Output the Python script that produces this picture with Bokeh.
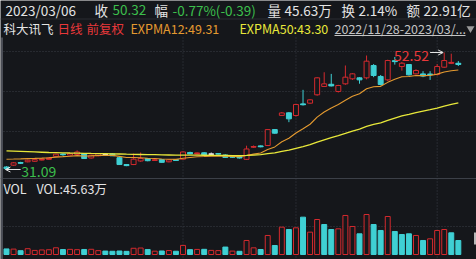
from bokeh.plotting import figure
from bokeh.models import Range1d, ColumnDataSource, Arrow, OpenHead
from bokeh.embed import file_html
from bokeh.resources import INLINE
from bokeh.core.properties import value

# ---------------- data ----------------
stock_name = "科大讯飞"
dates = [
    "2022/11/28", "2022/11/29", "2022/11/30",
    "2022/12/01", "2022/12/02", "2022/12/05", "2022/12/06", "2022/12/07", "2022/12/08",
    "2022/12/09", "2022/12/12", "2022/12/13", "2022/12/14", "2022/12/15", "2022/12/16",
    "2022/12/19", "2022/12/20", "2022/12/21", "2022/12/22", "2022/12/23", "2022/12/26",
    "2022/12/27", "2022/12/28", "2022/12/29", "2022/12/30",
    "2023/01/03", "2023/01/04", "2023/01/05", "2023/01/06", "2023/01/09", "2023/01/10",
    "2023/01/11", "2023/01/12", "2023/01/13", "2023/01/16", "2023/01/17", "2023/01/18",
    "2023/01/19", "2023/01/20", "2023/01/30", "2023/01/31",
    "2023/02/01", "2023/02/02", "2023/02/03", "2023/02/06", "2023/02/07", "2023/02/08",
    "2023/02/09", "2023/02/10", "2023/02/13", "2023/02/14", "2023/02/15", "2023/02/16",
    "2023/02/17", "2023/02/20", "2023/02/21", "2023/02/22", "2023/02/23", "2023/02/24",
    "2023/02/27", "2023/02/28",
    "2023/03/01", "2023/03/02", "2023/03/03", "2023/03/06",
]
opens = [31.55, 31.88, 32.35, 32.50, 32.60, 32.85, 32.95, 33.50, 33.90, 33.72,
         33.85, 34.00, 33.20, 33.60, 33.87, 33.95, 33.25, 32.00, 32.00, 32.65,
         33.10, 32.75, 32.90, 32.50, 32.90, 32.98, 34.20, 33.95, 34.15, 33.90,
         34.00, 33.75, 33.50, 33.40, 32.95, 35.20, 35.40, 35.48, 38.40, 41.00,
         41.47, 40.98, 43.10, 43.24, 44.77, 46.30, 46.70, 45.38, 46.78, 47.70,
         47.88, 47.88, 50.14, 48.13, 47.51, 51.00, 49.95, 50.32, 48.61, 48.60,
         48.55, 48.49, 49.83, 50.55, 50.55]
highs = [31.70, 32.45, 32.50, 32.90, 33.00, 33.10, 33.30, 34.00, 34.05, 34.10,
         34.60, 34.10, 33.80, 34.10, 34.00, 34.05, 33.40, 32.10, 34.00, 34.20,
         33.20, 33.00, 33.00, 32.95, 33.00, 34.40, 34.35, 34.20, 34.25, 34.20,
         34.10, 33.85, 33.60, 33.50, 35.45, 35.50, 35.50, 38.50, 38.50, 41.60,
         41.60, 43.10, 45.68, 44.00, 48.00, 48.90, 48.60, 46.60, 50.14, 48.75,
         48.00, 51.97, 50.40, 48.40, 51.20, 51.70, 50.80, 50.40, 49.45, 49.10,
         49.10, 50.40, 52.52, 52.30, 50.95]
lows = [31.09, 31.75, 32.10, 32.40, 32.50, 32.75, 32.85, 33.40, 33.60, 33.65,
        33.80, 33.05, 33.10, 33.50, 33.70, 33.55, 31.95, 31.70, 31.90, 32.50,
        32.60, 32.65, 32.35, 32.40, 32.70, 32.90, 33.90, 33.85, 33.70, 33.80,
        33.85, 33.25, 33.25, 33.10, 32.85, 35.05, 35.15, 35.40, 37.65, 40.90,
        39.76, 40.80, 42.80, 43.10, 44.60, 46.20, 46.30, 45.20, 46.60, 47.50,
        46.80, 47.60, 48.00, 46.50, 47.30, 50.30, 49.20, 48.30, 48.50, 48.00,
        47.50, 48.30, 49.70, 50.40, 50.05]
closes = [31.25, 32.31, 32.25, 32.80, 32.90, 33.00, 33.20, 33.90, 33.80, 34.00,
          34.30, 33.10, 33.70, 34.00, 33.87, 33.60, 32.00, 31.80, 32.98, 33.10,
          32.70, 32.85, 32.40, 32.85, 32.75, 34.30, 33.95, 34.10, 33.75, 33.90,
          33.95, 33.30, 33.35, 33.20, 34.85, 35.30, 35.25, 38.40, 37.74, 41.45,
          40.37, 43.00, 42.95, 43.85, 47.88, 46.78, 46.40, 46.47, 48.00, 48.61,
          47.51, 50.93, 48.31, 46.66, 51.05, 50.85, 50.56, 48.43, 49.22, 48.20,
          48.48, 49.95, 51.05, 50.71, 50.32]
volumes = [18.2, 17.6, 12.4, 18.9, 13.3, 14.8, 15.5, 21.9, 16.1, 16.8,
           15.7, 16.4, 17.0, 12.6, 11.2, 10.5, 11.4, 10.2, 20.3, 21.1,
           16.0, 10.8, 11.5, 12.9, 10.6, 29.6, 15.8, 16.6, 16.9, 13.4,
           12.7, 24.2, 11.1, 10.4, 45.7, 21.7, 16.3, 62.0, 29.3, 89.1,
           81.5, 87.0, 121.7, 72.8, 114.1, 97.8, 81.5, 83.7, 127.2, 91.3,
           67.4, 130.4, 97.8, 78.3, 123.9, 75.0, 65.2, 67.4, 62.0, 45.7,
           51.1, 78.3, 81.5, 70.7, 45.63]   # 万手
expma12 = [32.98, 33.00, 33.03, 33.08, 33.12, 33.18, 33.25, 33.36, 33.44, 33.53,
           33.64, 33.57, 33.59, 33.65, 33.68, 33.67, 33.49, 33.30, 33.28, 33.25,
           33.16, 33.11, 33.00, 32.98, 32.95, 33.16, 33.30, 33.42, 33.47, 33.53,
           33.57, 33.53, 33.50, 33.45, 33.66, 33.91, 34.12, 34.77, 35.23, 36.17,
           36.82, 37.77, 38.57, 39.38, 40.69, 41.63, 42.36, 43.00, 43.77, 44.51,
           44.97, 45.89, 46.26, 46.32, 47.05, 47.63, 48.08, 48.13, 48.30, 48.28,
           48.31, 48.56, 48.94, 49.18, 49.31]
expma50 = [34.50, 34.45, 34.40, 34.35, 34.30, 34.25, 34.20, 34.17, 34.14, 34.11,
           34.09, 34.06, 34.03, 34.01, 33.99, 33.97, 33.93, 33.89, 33.86, 33.84,
           33.82, 33.80, 33.77, 33.75, 33.72, 33.73, 33.72, 33.71, 33.70, 33.69,
           33.68, 33.66, 33.64, 33.63, 33.68, 33.74, 33.80, 33.98, 34.13, 34.42,
           34.65, 34.98, 35.29, 35.63, 36.11, 36.53, 36.92, 37.29, 37.71, 38.14,
           38.50, 38.99, 39.36, 39.64, 40.09, 40.51, 40.90, 41.20, 41.51, 41.78,
           42.04, 42.35, 42.69, 43.01, 43.30]
turnover_pct = 2.14
amount_yi = 22.91

# ---------------- styles ----------------
W, H = 476, 259
BG = "#15171b"
RED = "#d42a2e"
CYAN = "#3fd0d4"
DOJI = "#e6e6e6"
ORANGE = "#e49a30"
YELLOW = "#e8e83a"
WHITE = "#e4e4e4"
GREEN = "#3cbf4c"
REDT = "#e8383a"
GRAYT = "#c4c4c4"
GRID = "#3a3e46"
FONT = value("Noto Sans CJK SC")

n = len(closes)
idx = list(range(n))
hi_i = max(idx, key=lambda i: highs[i])
lo_i = min(idx, key=lambda i: lows[i])

# pixel layout -> data mapping helpers (layout only)
XPX = 7.06
X0 = -0.85
def xd(px):
    return X0 + px / XPX
PPX = (169 - 52) / (highs[hi_i] - lows[lo_i])
PTOP = highs[hi_i] + 52 / PPX
def yd(py):
    return PTOP - py / PPX
VBASE = 254
VPX = max(volumes) / (VBASE - 214)

p = figure(width=W, height=H, output_backend="svg", toolbar_location=None,
           x_range=Range1d(xd(0), xd(W)), y_range=Range1d(yd(H), yd(0)),
           x_axis_location=None, y_axis_location=None, min_border=0)
p.extra_y_ranges = {"vol": Range1d(-(H - VBASE) * VPX, VBASE * VPX)}
p.grid.visible = False
p.outline_line_color = None
p.background_fill_color = BG
p.border_fill_color = BG

# ---- grid / frame ----
hy = [51, 91, 131, 226]
p.segment(x0=[xd(3)] * len(hy), x1=[xd(W)] * len(hy), y0=[yd(v) for v in hy], y1=[yd(v) for v in hy],
          line_color=GRID, line_width=1, line_dash="1 2")
month_starts = [i for i in range(1, n) if dates[i][:7] != dates[i - 1][:7] and i > 5]
p.segment(x0=month_starts, x1=month_starts, y0=[yd(37)] * len(month_starts), y1=[yd(H)] * len(month_starts),
          line_color=GRID, line_width=1, line_dash="1 2")
p.segment(x0=[xd(0)], x1=[xd(W)], y0=[yd(178)], y1=[yd(178)], line_color="#3c4048", line_width=1.2)
p.segment(x0=[xd(0)], x1=[xd(W)], y0=[yd(18.5)], y1=[yd(18.5)], line_color="#2a2d33", line_width=1)
p.segment(x0=[xd(1.5)], x1=[xd(1.5)], y0=[yd(37)], y1=[yd(H)], line_color="#4a4d55", line_width=2)
p.quad(left=[xd(473.5)], right=[xd(W)], top=[yd(232)], bottom=[yd(244)], fill_color="#b8b8b8", line_color=None)

# ---- candles ----
ccol = [RED if c > o else (CYAN if c < o else DOJI) for o, c in zip(opens, closes)]
cfill = [CYAN if c < o else BG for o, c in zip(opens, closes)]
csrc = ColumnDataSource(dict(x=idx, o=opens, h=highs, l=lows, c=closes,
                             top=[max(o, c) for o, c in zip(opens, closes)],
                             bot=[min(o, c) for o, c in zip(opens, closes)],
                             col=ccol, fill=cfill))
p.segment(x0="x", x1="x", y0="h", y1="l", line_color="col", line_width=1, source=csrc)
p.vbar(x="x", width=0.7, top="top", bottom="bot", fill_color="fill", line_color="col", line_width=1, source=csrc)
thin = [i for i in idx if abs(opens[i] - closes[i]) * PPX < 1.5]
p.segment(x0=[i - 0.35 for i in thin], x1=[i + 0.35 for i in thin],
          y0=[(opens[i] + closes[i]) / 2 for i in thin], y1=[(opens[i] + closes[i]) / 2 for i in thin],
          line_color=[ccol[i] for i in thin], line_width=1.3)

# ---- EXPMA lines ----
p.line(idx, expma12, line_color=ORANGE, line_width=1.1)
p.line(idx, expma50, line_color=YELLOW, line_width=1.3)

# ---- volume ----
vup = [closes[0] >= opens[0]] + [closes[i] >= closes[i - 1] for i in range(1, n)]
vsrc = ColumnDataSource(dict(x=idx, v=volumes,
                             col=[RED if u else CYAN for u in vup],
                             fill=[BG if u else CYAN for u in vup]))
p.vbar(x="x", width=0.7, top="v", bottom=0, fill_color="fill", line_color="col", line_width=1,
       source=vsrc, y_range_name="vol")

# ---- high / low markers ----
p.add_layout(Arrow(end=OpenHead(size=5, line_color=WHITE, line_width=1), line_color=WHITE, line_width=1,
                   x_start=hi_i - 2.0, y_start=highs[hi_i], x_end=hi_i - 0.15, y_end=highs[hi_i]))
p.text(x=[hi_i - 2.15], y=[highs[hi_i]], text=[f"{highs[hi_i]:.2f}"], text_color=REDT, text_font=FONT,
       text_font_size="14px", text_align="right", text_baseline="middle", y_offset=3)
p.add_layout(Arrow(end=OpenHead(size=5, line_color=WHITE, line_width=1), line_color=WHITE, line_width=1,
                   x_start=lo_i + 2.0, y_start=lows[lo_i], x_end=lo_i - 0.15, y_end=lows[lo_i]))
p.text(x=[lo_i + 2.1], y=[lows[lo_i]], text=[f"{lows[lo_i]:.2f}"], text_color=GREEN, text_font=FONT,
       text_font_size="14px", text_align="left", text_baseline="middle", y_offset=2)

# ---- header texts ----
def txt(items, py, size):
    src = ColumnDataSource(dict(x=[xd(a) for a, _, _ in items], y=[yd(py)] * len(items),
                                t=[b for _, b, _ in items], c=[c for _, _, c in items]))
    p.text(x="x", y="y", text="t", text_color="c", source=src, text_font=FONT,
           text_font_size=size, text_baseline="middle", text_align="left")

chg = closes[-1] - closes[-2]
pct = chg / closes[-2] * 100
txt([(5, dates[-1], WHITE), (94, "收", WHITE), (112, f"{closes[-1]:.2f}", GREEN),
     (154, "幅", WHITE), (172, f"{pct:.2f}%({chg:.2f})", GREEN),
     (267, "量", WHITE), (284, f"{volumes[-1]:.2f}万", WHITE),
     (341, "换", WHITE), (358, f"{turnover_pct:.2f}%", WHITE),
     (406, "额", WHITE), (423, f"{amount_yi:.2f}亿", WHITE)], 9, "13.5px")
range_txt = f"{dates[0]}-{dates[-1][:8]}..."
txt([(3, stock_name, WHITE), (57, "日线", REDT), (86, "前复权", REDT),
     (130, f"EXPMA12:{expma12[-1]:.2f}", ORANGE), (239, f"EXPMA50:{expma50[-1]:.2f}", YELLOW),
     (334, range_txt, GRAYT)], 28, "12.5px")
p.segment(x0=[xd(334)], x1=[xd(465)], y0=[yd(35)], y1=[yd(35)], line_color=GRAYT, line_width=1)
p.scatter(x=[xd(470)], y=[yd(28)], marker="inverted_triangle", size=8, fill_color="#9a9a9a", line_color=None)
txt([(3, "VOL", WHITE), (36, f"VOL:{volumes[-1]:.2f}万", WHITE)], 188, "12.5px")

open("out.html", "w").write(file_html(p, INLINE))
